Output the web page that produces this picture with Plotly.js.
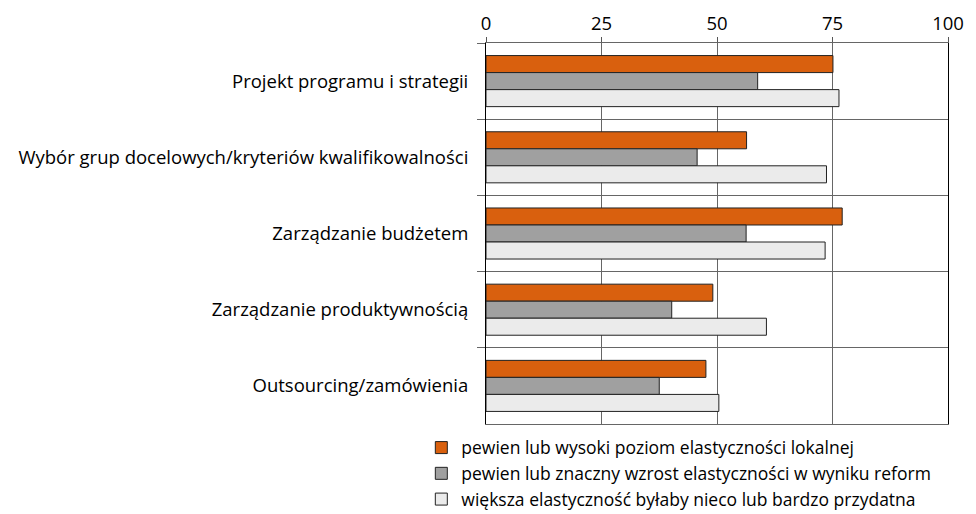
<!DOCTYPE html>
<html>
<head>
<meta charset="utf-8">
<script src="https://cdn.plot.ly/plotly-3.0.1.min.js"></script>
<style>
  html, body { margin: 0; padding: 0; background: #fff; }
  #wykres { width: 976px; height: 514px; }
</style>
</head>
<body>
<div id="wykres"></div>
<script>
// Kategorie (od góry)
const kategorie = [
  "Projekt programu i strategii",
  "Wybór grup docelowych/kryteriów kwalifikowalności",
  "Zarządzanie budżetem",
  "Zarządzanie produktywnością",
  "Outsourcing/zamówienia"
];

// Serie (w %)
const elastycznoscLokalna = [75.1, 56.4, 77.1, 49.1, 47.6];
const wzrostPoReformach = [58.8, 45.7, 56.3, 40.2, 37.5];
const bylabyPrzydatna = [76.4, 73.7, 73.4, 60.7, 50.4];

const nazwySerii = [
  "pewien lub wysoki poziom elastyczności lokalnej",
  "pewien lub znaczny wzrost elastyczności w wyniku reform",
  "większa elastyczność byłaby nieco lub bardzo przydatna"
];

const osX = [0, 25, 50, 75, 100];

const kolory = ["#D9600E", "#A0A0A0", "#EBEBEB"];
const serie = [elastycznoscLokalna, wzrostPoReformach, bylabyPrzydatna];

const data = serie.map(function (wartosci, i) {
  return {
    type: "bar",
    orientation: "h",
    x: wartosci,
    y: kategorie,
    name: nazwySerii[i],
    marker: { color: kolory[i], line: { color: "#222", width: 1 } },
    hoverinfo: "x"
  };
});

const layout = {
  width: 976,
  height: 514,
  margin: { l: 486, r: 28, t: 43, b: 90, autoexpand: false },
  paper_bgcolor: "#fff",
  plot_bgcolor: "#fff",
  font: { family: "Open Sans, sans-serif", size: 18.5, color: "#000" },
  barmode: "group",
  bargap: 0.33,
  bargroupgap: 0,
  showlegend: true,
  legend: {
    x: -0.14, xanchor: "left",
    y: -0.015, yanchor: "top",
    traceorder: "normal",
    font: { size: 17.5 },
    itemwidth: 30,
    tracegroupgap: 0
  },
  xaxis: {
    side: "top",
    range: [0, 100],
    tickvals: osX,
    ticktext: osX.map(String),
    ticks: "outside",
    ticklen: 5,
    tickcolor: "#555",
    showgrid: true,
    gridcolor: "#666",
    gridwidth: 1,
    zeroline: false,
    showline: true,
    linecolor: "#666",
    mirror: true,
    fixedrange: true
  },
  yaxis: {
    type: "category",
    autorange: "reversed",
    tickson: "boundaries",
    ticks: "outside",
    ticklen: 8,
    tickcolor: "#666",
    showgrid: true,
    gridcolor: "#666",
    showline: true,
    linecolor: "#000",
    mirror: true,
    ticklabelstandoff: 13,
    fixedrange: true
  }
};

Plotly.newPlot("wykres", data, layout, { displayModeBar: false, staticPlot: true });
</script>
</body>
</html>
